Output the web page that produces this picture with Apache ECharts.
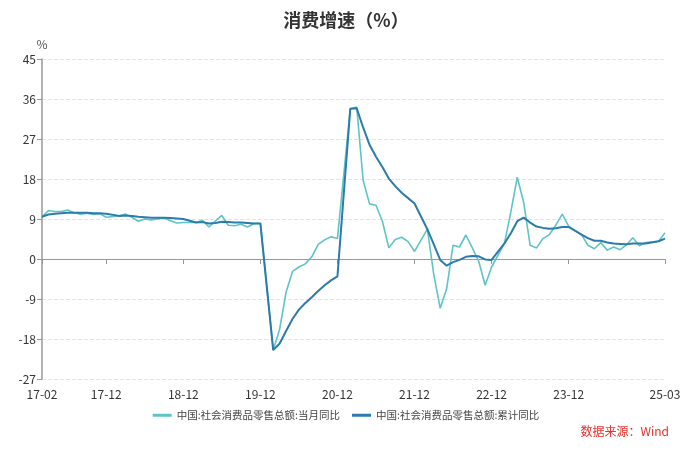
<!DOCTYPE html>
<html>
<head>
<meta charset="utf-8">
<script src="https://cdn.jsdelivr.net/npm/echarts@6/dist/echarts.min.js"></script>
<style>html,body{margin:0;padding:0;background:#fff;}#c{width:692px;height:450px;}</style>
</head>
<body>
<div id="c"></div>
<script>
// Categories: months 2017-02 .. 2025-03 (Jan values not published -> null)
const startYear = 2017, startMonth = 2, endYear = 2025, endMonth = 3;
const categories = [];
for (let y = startYear; y <= endYear; y++) {
  for (let m = (y === startYear ? startMonth : 1); m <= (y === endYear ? endMonth : 12); m++) {
    categories.push(String(y).slice(2) + '-' + (m < 10 ? '0' + m : m));
  }
}
const tickLabels = ['17-02','17-12','18-12','19-12','20-12','21-12','22-12','23-12','25-03'];

// 中国:社会消费品零售总额:当月同比
const monthlyYoY = [
  9.5,10.9,10.7,10.7,11.0,10.4,10.1,10.3,10.0,10.2,9.4,
  null,9.7,10.1,9.4,8.5,9.0,8.8,9.0,9.2,8.6,8.1,8.2,
  null,8.2,8.7,7.2,8.6,9.8,7.6,7.5,7.8,7.2,8.0,8.0,
  null,-20.5,-15.8,-7.5,-2.8,-1.8,-1.1,0.5,3.3,4.3,5.0,4.6,
  null,33.8,34.2,17.7,12.4,12.1,8.5,2.5,4.4,4.9,3.9,1.7,
  null,6.7,-3.5,-11.1,-6.7,3.1,2.7,5.4,2.5,-0.5,-5.9,-1.8,
  null,3.5,10.6,18.4,12.7,3.1,2.5,4.6,5.5,7.6,10.1,7.4,
  null,5.5,3.1,2.3,3.7,2.0,2.7,2.1,3.2,4.8,3.0,3.7,
  null,4.0,5.9
];
// 中国:社会消费品零售总额:累计同比
const cumulativeYoY = [
  9.5,10.0,10.2,10.3,10.4,10.4,10.4,10.4,10.3,10.3,10.2,
  null,9.7,9.8,9.7,9.5,9.4,9.3,9.3,9.3,9.2,9.1,9.0,
  null,8.2,8.3,8.0,8.1,8.4,8.3,8.2,8.2,8.1,8.0,8.0,
  null,-20.5,-19.0,-16.2,-13.5,-11.4,-9.9,-8.6,-7.2,-5.9,-4.8,-3.9,
  null,33.8,33.9,29.6,25.7,23.0,20.7,18.1,16.4,14.9,13.7,12.5,
  null,6.7,3.3,-0.2,-1.5,-0.7,-0.2,0.5,0.7,0.6,-0.1,-0.2,
  null,3.5,5.8,8.5,9.3,8.2,7.3,7.0,6.8,6.9,7.2,7.2,
  null,5.5,4.7,4.1,4.1,3.7,3.5,3.4,3.3,3.5,3.5,3.5,
  null,4.0,4.6
];

const FONT = '"Noto Sans CJK SC", "Noto Sans", sans-serif';
const showTick = (idx, val) => tickLabels.indexOf(val) >= 0;

const chart = echarts.init(document.getElementById('c'), null, {renderer: 'canvas'});
chart.setOption({
  backgroundColor: '#fff',
  textStyle: {fontFamily: FONT},
  title: {
    text: '消费增速（%）', left: 'center', top: 6,
    textStyle: {fontSize: 18, fontWeight: 'bold', color: '#333', fontFamily: FONT}
  },
  grid: {left: 42, right: 27, top: 59, bottom: 71, containLabel: false},
  legend: {
    top: 405, left: 'center', itemWidth: 19, itemHeight: 3, itemGap: 12,
    icon: 'rect',
    textStyle: {fontSize: 10.5, color: '#444', fontFamily: FONT, padding: [0, 0, 0, 0]},
    data: ['中国:社会消费品零售总额:当月同比', '中国:社会消费品零售总额:累计同比']
  },
  xAxis: {
    type: 'category', data: categories, boundaryGap: false,
    axisLine: {lineStyle: {color: '#999', width: 1}},
    axisTick: {show: true, interval: showTick, length: 5, lineStyle: {color: '#999'}},
    axisLabel: {interval: showTick, color: '#333', fontSize: 12, margin: 9, hideOverlap: false, fontFamily: FONT},
    splitLine: {show: false}
  },
  yAxis: {
    type: 'value', min: -27, max: 45, interval: 9,
    name: '%', nameGap: 9, nameTextStyle: {color: '#555', fontSize: 12, align: 'center'},
    axisLine: {show: true, lineStyle: {color: '#999', width: 1.5}},
    axisTick: {show: true, length: 5, lineStyle: {color: '#999'}},
    axisLabel: {color: '#333', fontSize: 12, margin: 6, fontFamily: FONT},
    splitLine: {show: true, lineStyle: {color: '#e3e3e3', type: 'dashed', width: 1}}
  },
  series: [
    {
      name: '中国:社会消费品零售总额:当月同比', type: 'line', data: monthlyYoY,
      connectNulls: true, symbol: 'none', z: 2,
      itemStyle: {color: '#5ec4c8'}, lineStyle: {color: '#5ec4c8', width: 1.6}
    },
    {
      name: '中国:社会消费品零售总额:累计同比', type: 'line', data: cumulativeYoY,
      connectNulls: true, symbol: 'none', z: 3,
      itemStyle: {color: '#2b7bab'}, lineStyle: {color: '#2b7bab', width: 2}
    }
  ],
  graphic: [{
    type: 'text', right: 23, top: 425,
    style: {text: '数据来源：Wind', fill: '#e8302c', fontSize: 12, fontFamily: FONT}
  }],
  animation: false
});
</script>
</body>
</html>
